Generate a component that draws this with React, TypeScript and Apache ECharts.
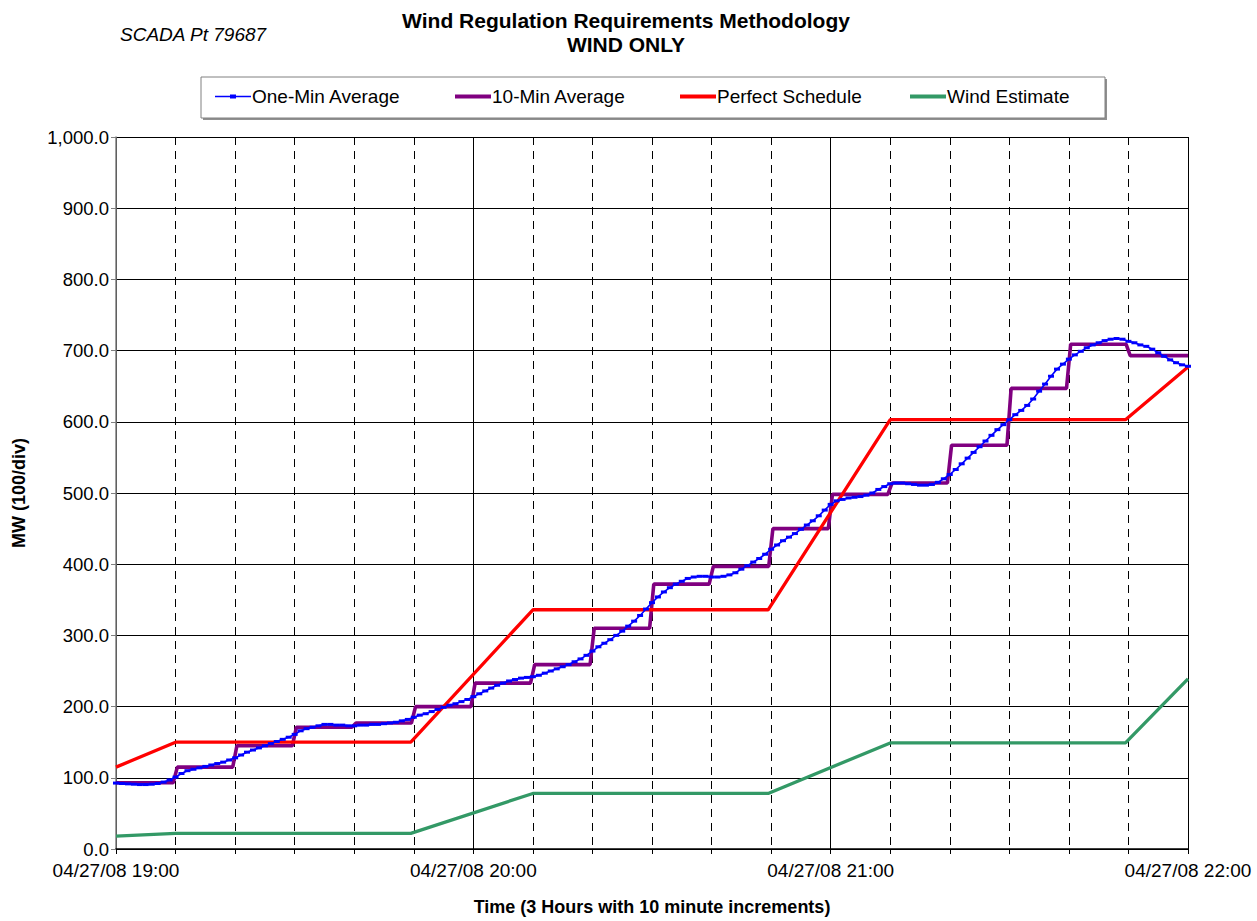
import React, { useEffect, useRef } from "react";
import * as echarts from "echarts";

const FONT = "'Liberation Sans', Arial, sans-serif";

// minutes after 19:00
const oneMinAvg = [
  92.6, 92, 91.5, 91, 90.5, 90.5, 91, 92, 94, 97, 101,
  106, 110, 112, 114, 116, 118, 120, 122, 125, 128,
  132, 136, 139, 142, 145, 148, 151, 154, 157, 161,
  166, 169, 171, 173, 175, 175, 174, 174, 173, 173,
  174, 174, 175, 175, 176, 177, 178, 180, 182, 185,
  188, 190, 193, 196, 199, 202, 204, 207, 210, 214,
  218, 222, 226, 230, 233, 236, 238, 240, 241, 242,
  244, 247, 250, 253, 256, 259, 263, 267, 272, 278,
  284, 289, 294, 300, 306, 313, 320, 328, 337, 346,
  354, 361, 367, 372, 376, 380, 382, 383, 383, 382,
  382, 383, 385, 388, 393, 398, 403, 408, 414, 421,
  427, 433, 438, 443, 449, 455, 461, 468, 476, 484,
  489, 491, 493, 494, 495, 497, 500, 505, 509, 513,
  514, 514, 513, 512, 511, 511, 512, 515, 520, 526,
  533, 541, 549, 557, 565, 573, 581, 589, 596, 603,
  610, 616, 623, 632, 643, 653, 664, 674, 681, 688,
  694, 699, 704, 708, 711, 714, 716, 717, 716, 713,
  711, 708, 706, 702, 697, 692, 687, 683, 680, 678,
];

const tenMinAvg = [93, 115, 145, 171, 177, 200, 233, 259, 310, 372, 397, 450, 498, 514, 567, 647, 709, 693];

const perfectTimes = [0, 10, 49.5, 70, 109.5, 130, 169.5, 180];
const perfectValues = [115, 150, 150, 336, 336, 603, 603, 677];

const windTimes = [0, 10, 49.5, 70, 109.5, 130, 169.5, 180];
const windValues = [18, 22, 22, 78, 78, 149, 149, 239];

const seriesNames = ["One-Min Average", "10-Min Average", "Perfect Schedule", "Wind Estimate"];
const seriesColors = ["#0000ff", "#800080", "#ff0000", "#339966"];
const hourLabels = ["04/27/08 19:00", "04/27/08 20:00", "04/27/08 21:00", "04/27/08 22:00"];

const legendLefts = [215, 455, 680, 910];
const legendIcons = [
  "path://M0,2.2H36V3.8H0Z M15,1H21V5H15Z",
  "path://M0,0H36V4H0Z",
  "path://M0,0H36V4H0Z",
  "path://M0,0H36V4H0Z",
];

export default function App() {
  const ref = useRef<HTMLDivElement>(null);
  useEffect(() => {
    if (!ref.current) return;
    const chart = echarts.init(ref.current, undefined, { renderer: "svg" });

    const blueData = oneMinAvg.map((v, i) => [i, v]);
    const purpleData: number[][] = [];
    tenMinAvg.forEach((v, k) => {
      const start = k === 0 ? 0 : k * 10 + 0.3;
      const end = k === tenMinAvg.length - 1 ? 180 : k * 10 + 9.6;
      purpleData.push([start, v], [end, v]);
    });
    const redData = perfectTimes.map((t, i) => [t, perfectValues[i]]);
    const greenData = windTimes.map((t, i) => [t, windValues[i]]);

    chart.setOption({
      animation: false,
      backgroundColor: "#fff",
      textStyle: { fontFamily: FONT },
      graphic: [
        {
          type: "text",
          x: 626,
          y: 8,
          z: 0,
          style: {
            text: "Wind Regulation Requirements Methodology\nWIND ONLY",
            textAlign: "center",
            font: `bold 21px ${FONT}`,
            lineHeight: 24,
            fill: "#000",
          },
        },
        {
          type: "text",
          x: 120,
          y: 25,
          z: 0,
          style: {
            text: "SCADA Pt 79687",
            font: `italic 19px ${FONT}`,
            fill: "#000",
          },
        },
        {
          type: "rect",
          z: 0,
          shape: { x: 203, y: 79, width: 904, height: 41 },
          style: { fill: "#909090" },
        },
        {
          type: "rect",
          z: 1,
          shape: { x: 201, y: 77, width: 904, height: 41 },
          style: { fill: "#fff", stroke: "#808080", lineWidth: 1 },
        },
      ],
      legend: seriesNames.map((name, i) => ({
        data: [{ name, icon: legendIcons[i] }],
        left: legendLefts[i],
        top: 87,
        padding: 0,
        z: 5,
        itemWidth: 36,
        itemHeight: 14,
        textStyle: { fontSize: 19, fontFamily: FONT, color: "#000", padding: [0, 0, 0, -4] },
      })),
      grid: { left: 116, right: 69, top: 137, bottom: 71 },
      xAxis: [
        {
          type: "value",
          min: 0,
          max: 180,
          interval: 10,
          name: "Time (3 Hours with 10 minute increments)",
          nameLocation: "middle",
          nameGap: 49,
          nameTextStyle: { fontSize: 18, fontWeight: "bold", fontFamily: FONT, color: "#000" },
          axisLine: { show: true, lineStyle: { color: "#000", width: 1.5 } },
          axisTick: { show: true, length: 5, lineStyle: { color: "#000" } },
          axisLabel: {
            fontSize: 19,
            fontFamily: FONT,
            color: "#000",
            margin: 12,
            showMaxLabel: true,
            showMinLabel: true,
            formatter: (v: number) => (v % 60 === 0 ? hourLabels[v / 60] : ""),
          },
          splitLine: { show: true, lineStyle: { color: "#000", width: 1, type: [8, 6] } },
        },
        {
          type: "value",
          min: 0,
          max: 180,
          interval: 60,
          position: "bottom",
          axisLine: { show: false },
          axisTick: { show: false },
          axisLabel: { show: false },
          splitLine: { show: true, lineStyle: { color: "#000", width: 1, type: "solid" } },
        },
      ],
      yAxis: {
        type: "value",
        min: 0,
        max: 1000,
        interval: 100,
        name: "MW (100/div)",
        nameLocation: "middle",
        nameGap: 88,
        nameTextStyle: { fontSize: 18, fontWeight: "bold", fontFamily: FONT, color: "#000" },
        axisLine: { show: true, lineStyle: { color: "#808080", width: 1.5 } },
        axisTick: { show: true, length: 5, lineStyle: { color: "#808080" } },
        axisLabel: {
          fontSize: 18.5,
          fontFamily: FONT,
          color: "#000",
          margin: 7,
          formatter: (v: number) =>
            v.toLocaleString("en-US", { minimumFractionDigits: 1, maximumFractionDigits: 1 }),
        },
        splitLine: { show: true, lineStyle: { color: "#000", width: 1 } },
      },
      series: [
        {
          name: seriesNames[0],
          type: "line",
          data: blueData,
          z: 5,
          symbol: "rect",
          symbolSize: [6, 3],
          showSymbol: true,
          itemStyle: { color: seriesColors[0] },
          lineStyle: { color: seriesColors[0], width: 1.6 },
        },
        {
          name: seriesNames[1],
          type: "line",
          data: purpleData,
          z: 3,
          showSymbol: false,
          symbol: "none",
          itemStyle: { color: seriesColors[1] },
          lineStyle: { color: seriesColors[1], width: 3.6 },
        },
        {
          name: seriesNames[2],
          type: "line",
          data: redData,
          z: 4,
          showSymbol: false,
          symbol: "none",
          itemStyle: { color: seriesColors[2] },
          lineStyle: { color: seriesColors[2], width: 3.3 },
        },
        {
          name: seriesNames[3],
          type: "line",
          data: greenData,
          z: 4,
          showSymbol: false,
          symbol: "none",
          itemStyle: { color: seriesColors[3] },
          lineStyle: { color: seriesColors[3], width: 3.3 },
        },
      ],
    });
    return () => chart.dispose();
  }, []);
  return (
    <div
      ref={ref}
      style={{ position: "absolute", left: 0, top: 0, width: 1257, height: 921 }}
    />
  );
}
